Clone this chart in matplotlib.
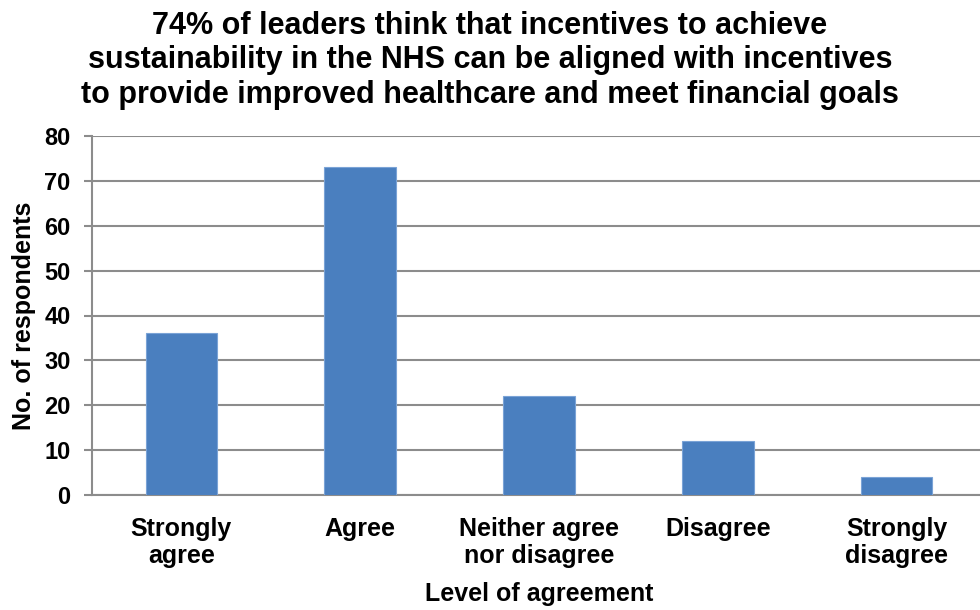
import matplotlib
matplotlib.use("Agg")
import matplotlib.pyplot as plt

categories = ["Strongly\nagree", "Agree", "Neither agree\nnor disagree",
              "Disagree", "Strongly\ndisagree"]
respondents = [36, 73, 22, 12, 4]
y_ticks = [0, 10, 20, 30, 40, 50, 60, 70, 80]

TITLE = ("74% of leaders think that incentives to achieve\n"
         "sustainability in the NHS can be aligned with incentives\n"
         "to provide improved healthcare and meet financial goals")

plt.rcParams["font.family"] = ["Liberation Sans", "DejaVu Sans"]
plt.rcParams["font.weight"] = "bold"

W, H = 980, 610
fig = plt.figure(figsize=(W / 100, H / 100), dpi=100)
# axes box in pixels: left 92, right ~986 (runs off the edge), top 136, bottom 495
ax = fig.add_axes([92 / W, (H - 495) / H, 894 / W, (495 - 136) / H])

grid_col = "#8c8c8c"
ax.bar(range(len(categories)), respondents, width=0.40,
       color="#4a7fbf", edgecolor="#7aa3d6", linewidth=0.8, zorder=3)

ax.set_xlim(-0.5, 4.5)
ax.set_ylim(0, 80)
ax.set_yticks(y_ticks)
ax.yaxis.grid(True, color=grid_col, linewidth=1.5, zorder=0)
ax.set_xticks(range(len(categories)))
ax.set_xticklabels(categories, fontsize=18, fontweight="bold", linespacing=1.17)
ax.tick_params(axis="y", labelsize=17, length=5.5, width=1.5, color=grid_col, pad=10)
ax.tick_params(axis="x", length=0, pad=16)
for lab in ax.get_yticklabels():
    lab.set_fontweight("bold")

for side in ("top", "right"):
    ax.spines[side].set_visible(False)
ax.spines["left"].set_color(grid_col)
ax.spines["left"].set_linewidth(1.5)
ax.spines["bottom"].set_color(grid_col)
ax.spines["bottom"].set_linewidth(1.5)

ax.set_ylabel("No. of respondents", fontsize=18, fontweight="bold", labelpad=6)
ax.set_xlabel("Level of agreement", fontsize=18, fontweight="bold", labelpad=10)

fig.text(0.5, 1 - 11 / H, TITLE, ha="center", va="top", fontsize=22,
         fontweight="bold", linespacing=1.19)

fig.savefig("out.png", dpi=100)
